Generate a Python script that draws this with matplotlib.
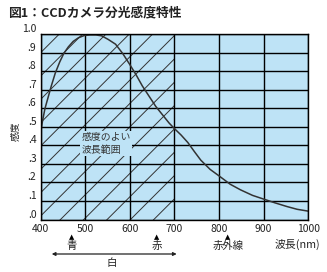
import matplotlib.pyplot as plt
from matplotlib.transforms import blended_transform_factory

# CCD spectral sensitivity
wavelength = [400, 405, 410, 417, 424, 433, 443, 452, 462, 473, 485, 498, 511, 524, 537, 552,
              568, 584, 600, 614, 628, 643, 658, 673, 688, 700, 715, 730, 745, 759, 780,
              800, 825, 848, 875, 900, 925, 952, 975, 1000]
sensitivity = [0.47, 0.54, 0.60, 0.66, 0.72, 0.79, 0.85, 0.895, 0.93, 0.96, 0.98, 0.992, 0.995,
               0.995, 0.99, 0.97, 0.945, 0.895, 0.835, 0.78, 0.72, 0.665, 0.61, 0.565, 0.52,
               0.49, 0.455, 0.415, 0.365, 0.32, 0.27, 0.235, 0.19, 0.16, 0.13, 0.11, 0.09,
               0.07, 0.055, 0.045]

good_range = (400, 700)
x_ticks = [400, 500, 600, 700, 800, 900, 1000]
y_ticks = [0.0, 0.1, 0.2, 0.3, 0.4, 0.5, 0.6, 0.7, 0.8, 0.9, 1.0]
y_tick_labels = ['.0', '.1', '.2', '.3', '.4', '.5', '.6', '.7', '.8', '.9', '1.0']
color_names = ['青', '赤', '赤外線']
color_pos = [470, 660, 820]
white_range = (425, 705)

bg = '#bee3f6'
DPI = 140
k = 100 / DPI  # keeps text sizes as at 100 dpi, hatch gets wider

plt.rcParams['font.family'] = ['Liberation Sans Narrow', 'Noto Sans CJK JP', 'DejaVu Sans']
plt.rcParams['hatch.linewidth'] = 0.7 * k
plt.rcParams['hatch.color'] = '#333333'

fig = plt.figure(figsize=(327 / DPI, 272 / DPI), dpi=DPI)
ax = fig.add_axes([40.6 / 327, 1 - 219.5 / 272, (308.3 - 40.6) / 327, (219.5 - 34) / 272])
ax.set_facecolor(bg)
ax.set_xlim(400, 1000)
ax.set_ylim(0, 1)

ax.axvspan(good_range[0], good_range[1], facecolor='none', edgecolor='#333333',
           hatch='//', linewidth=0, zorder=1)

ax.set_xticks(x_ticks)
ax.set_yticks(y_ticks)
ax.set_yticklabels(y_tick_labels)
ax.tick_params(length=0, labelsize=7.5 * k, colors='#222222', pad=3 * k)
for lab in ax.get_yticklabels():
    lab.set_verticalalignment('bottom')
ax.grid(True, color='black', linewidth=1.0 * k, zorder=2)
ax.set_axisbelow(False)
for s in ax.spines.values():
    s.set_linewidth(1.0 * k)
    s.set_zorder(4)

ax.plot(wavelength, sensitivity, color='#333333', linewidth=1.1 * k, zorder=3)

ax.text(0.153, 0.41, '感度のよい\n波長範囲', fontsize=7.1 * k, color='#333333', ha='left',
        va='center', linespacing=1.45, family=['Noto Sans CJK JP'], transform=ax.transAxes,
        zorder=5, bbox=dict(facecolor=bg, edgecolor='none', pad=0.8 * k))

fig.text(8 / 327, 1 - 13 / 272, '図1：CCDカメラ分光感度特性', fontsize=9.2 * k, fontweight='bold',
         family=['Noto Sans CJK JP'], ha='left', va='center', color='#222222')
fig.text(16 / 327, 1 - 131 / 272, '感度', fontsize=7 * k, rotation=90, ha='center', va='center',
         family=['Noto Sans CJK JP'], color='#222222')

tr = blended_transform_factory(ax.transData, fig.transFigure)
for name, pos in zip(color_names, color_pos):
    ax.text(pos, 1 - 237 / 272, '▲', fontsize=5 * k, ha='center', va='center', transform=tr,
            family=['DejaVu Sans'], color='black')
    ax.text(pos, 1 - 246 / 272, name, fontsize=7.5 * k, ha='center', va='center', transform=tr,
            family=['Noto Sans CJK JP'], color='#222222')

ax.annotate('', xy=(white_range[0], 1 - 254 / 272), xytext=(white_range[1], 1 - 254 / 272),
            xycoords=tr, textcoords=tr, annotation_clip=False,
            arrowprops=dict(arrowstyle='<|-|>', color='#222222', lw=0.9 * k,
                            mutation_scale=5 * k, shrinkA=0, shrinkB=0))
ax.text(sum(white_range) / 2 - 5, 1 - 263 / 272, '白', fontsize=7.5 * k, ha='center',
        va='center', transform=tr, family=['Noto Sans CJK JP'], color='#222222')

fig.text(297 / 327, 1 - 244 / 272, '波長(nm)', fontsize=7.8 * k, ha='center', va='center',
         family=['Noto Sans CJK JP'], color='#222222')

fig.savefig('out.png', dpi=DPI)
